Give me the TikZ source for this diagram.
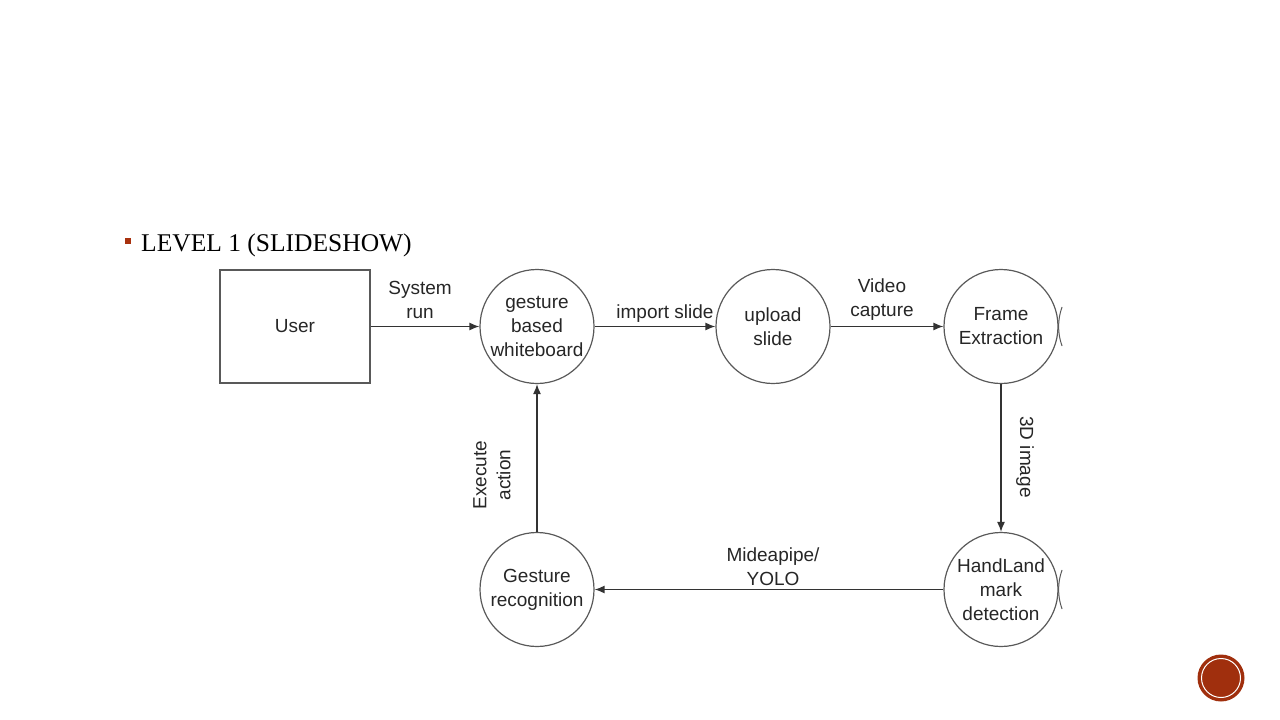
\documentclass[tikz,border=0pt]{standalone}
\usepackage{fontspec}
\setmainfont{Liberation Sans}
\newfontfamily\titlefont{Liberation Serif}
\usetikzlibrary{arrows.meta}
\definecolor{txt}{HTML}{262626}
\definecolor{ln}{HTML}{333333}
\definecolor{circ}{HTML}{595959}
\definecolor{accent}{HTML}{A8310E}
\tikzset{
  proc/.style={circle,draw=circ,line width=1.2pt,minimum size=114pt,inner sep=0pt,align=center,text=txt,font=\fontsize{19}{24}\selectfont},
  ent/.style={rectangle,draw=circ,line width=1.2pt,minimum width=150pt,minimum height=113pt,inner sep=0pt,text=txt,font=\fontsize{19}{24}\selectfont},
  flow/.style={draw=ln,line width=1.3pt,-{Latex[length=10pt,width=8pt]}},
  lbl/.style={text=txt,align=center,font=\fontsize{19}{24}\selectfont,inner sep=0pt},
}
\begin{document}
\begin{tikzpicture}[x=1pt,y=-1pt]
\useasboundingbox (0,0) rectangle (1280,720);
% title
\fill[accent] (125,238) rectangle (131,244);
\node[anchor=base west,inner sep=0pt,text=black,font=\titlefont\fontsize{25.5}{30}\selectfont] (title) at (141,251) {LEVEL 1 (SLIDESHOW)};
% nodes
\node[ent] (user) at (295,326.5) {User};
\node[proc] (gbw) at (537,326.5) {gesture\\based\\whiteboard};
\node[proc] (up) at (773,326.5) {upload\\slide};
\node[proc] (fe) at (1001,326.5) {Frame\\Extraction};
\node[proc] (hl) at (1001,589.5) {HandLand\\mark\\detection};
\node[proc] (gr) at (537,589.5) {Gesture\\recognition};
% partial arcs on right
\draw[circ,line width=1pt] ([xshift=57pt]fe.east) ++(160:57) arc (160:200:57);
\draw[circ,line width=1pt] ([xshift=57pt]hl.east) ++(160:57) arc (160:200:57);
% flows
\draw[flow] (user.east) -- (gbw.west);
\draw[flow] (gbw.east) -- (up.west);
\draw[flow] (up.east) -- (fe.west);
\draw[flow] (fe.south) -- (hl.north);
\draw[flow] (hl.west) -- (gr.east);
\draw[flow] (gr.north) -- (gbw.south);
% labels
\node[lbl] (l1) at (420,300) {System\\run};
\node[lbl] (l2) at (665,314) {import slide};
\node[lbl] (l3) at (882,300) {Video\\capture};
\node[lbl,rotate=-90] (l4) at (1025,457) {3D image};
\node[lbl] (l5) at (773,567) {Mideapipe/\\YOLO};
\node[lbl,rotate=90] (l6) at (492,475) {Execute\\action};
% page badge
\fill[accent!95!black] (1221,678) circle (23.5);
\draw[white,line width=1pt] (1221,678) circle (19.5);
\end{tikzpicture}
\end{document}
